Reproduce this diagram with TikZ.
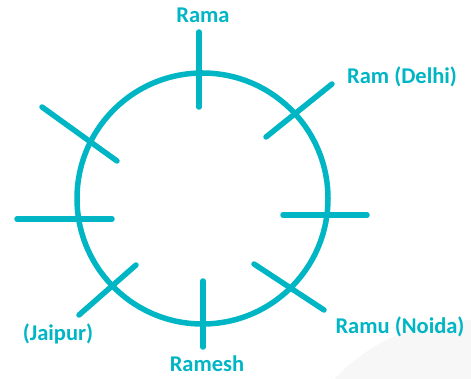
\documentclass[tikz,border=0pt]{standalone}
\usepackage{fontspec}
\setmainfont{Carlito}
\definecolor{teal1}{RGB}{0,181,196}
\definecolor{faint}{RGB}{247,247,247}
\begin{document}
\begin{tikzpicture}[x=1pt,y=-1pt,
  ln/.style={draw=teal1,line width=5.5pt,line cap=round},
  lbl/.style={text=teal1,font=\bfseries\fontsize{22.5}{26}\selectfont,inner sep=0pt}]
\useasboundingbox (0,0) rectangle (471,379);
\begin{scope}
\clip (0,0) rectangle (471,379);
\fill[faint] (470,505) circle[radius=185];
\end{scope}
\node[ln,circle,minimum size=251pt,inner sep=0pt,fill=none] (c) at (202.5,198.5) {};
% ticks
\coordinate (t1) at (199,32); \coordinate (t2) at (199,107);
\coordinate (r1) at (266,137); \coordinate (r2) at (332,84);
\coordinate (l1) at (42,107); \coordinate (l2) at (117,161);
\coordinate (w1) at (17,219); \coordinate (w2) at (112,219);
\coordinate (e1) at (283,215); \coordinate (e2) at (367,215);
\coordinate (s1) at (254,264); \coordinate (s2) at (324,310);
\coordinate (j1) at (79,315); \coordinate (j2) at (136,265);
\coordinate (b1) at (203,281); \coordinate (b2) at (203,347);
\draw[ln] (t1) -- (t2);
\draw[ln] (r1) -- (r2);
\draw[ln] (l1) -- (l2);
\draw[ln] (w1) -- (w2);
\draw[ln] (e1) -- (e2);
\draw[ln] (s1) -- (s2);
\draw[ln] (j1) -- (j2);
\draw[ln] (b1) -- (b2);
% labels
\node[lbl] (rama) at (203,15) {Rama};
\node[lbl] (delhi) at (402,77) {Ram (Delhi)};
\node[lbl] (noida) at (400,327) {Ramu (Noida)};
\node[lbl] (jaipur) at (58,334) {(Jaipur)};
\node[lbl] (ramesh) at (207,364) {Ramesh};
\end{tikzpicture}
\end{document}
